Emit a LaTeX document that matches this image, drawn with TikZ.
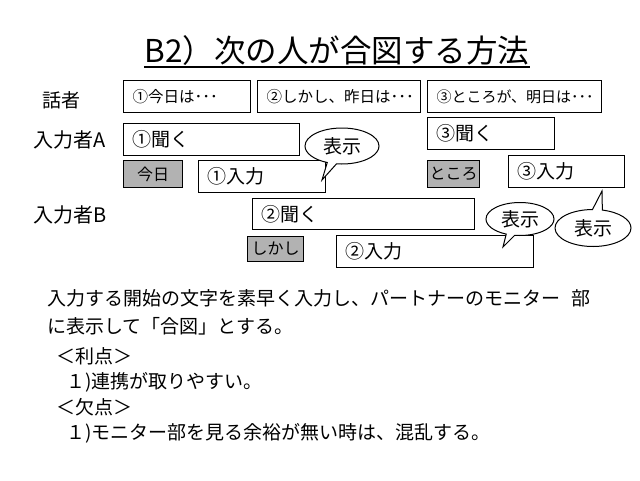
\documentclass[tikz,border=0pt]{standalone}
\usepackage{fontspec}
\setmainfont{Noto Sans CJK JP}
\usetikzlibrary{shapes.geometric,shapes.callouts}
\definecolor{keygray}{RGB}{178,178,178}
\newcommand{\fsz}[1]{\fontsize{#1}{#1}\selectfont}

\begin{document}
\begin{tikzpicture}[x=1pt,y=-1pt,
    box/.style={draw,line width=1pt,fill=white,anchor=north west,
      inner xsep=9pt,inner ysep=0pt,align=left,font=\fsz{19}},
    keybox/.style={draw,line width=1pt,fill=keygray,anchor=north west,
      inner sep=0pt,font=\fsz{16}},
    says/.style={ellipse callout,draw,line width=1pt,fill=white,
      inner sep=0pt,font=\fsz{19}},
    who/.style={font=\fsz{19}},
    note/.style={anchor=base west,inner sep=0pt,font=\fsz{19}}]
  \useasboundingbox (0,0) rectangle (640,480);

  \node[anchor=base,inner sep=0pt,font=\fsz{31.5}] (title) at (337,62)
    {B2）次の人が合図する方法};
  \draw[line width=1.2pt] ([yshift=-5pt]title.base west) -- ([yshift=-5pt]title.base east);

  \node[who] (speaker) at (61,100) {話者};
  \node[who,font=\fsz{20}] (inA) at (70,140) {入力者A};
  \node[who,font=\fsz{20}] (inB) at (70,215) {入力者B};

  \node[box,font=\fsz{15.5},text width=109,minimum height=32] (say1) at (123,80) {①今日は･･･};
  \node[box,font=\fsz{15.5},text width=145,minimum height=32] (say2) at (257,80) {②しかし、昨日は･･･};
  \node[box,font=\fsz{15},text width=156,minimum height=32] (say3) at (427,80) {③ところが、明日は･･･};

  \node[box,text width=158,minimum height=32] (hearA1) at (123,123) {①聞く};
  \node[box,text width=109,minimum height=32] (hearA3) at (427,117) {③聞く};
  \node[box,text width=204,minimum height=31] (hearB2) at (252,198) {②聞く};

  \node[keybox,minimum width=59,minimum height=27] (keyA1) at (123,160) {今日};
  \node[keybox,minimum width=52,minimum height=27] (keyA3) at (427,160) {ところ};
  \node[keybox,minimum width=56,minimum height=25] (keyB2) at (247,236) {しかし};

  \node[box,text width=109,minimum height=32] (typeA1) at (198,160) {①入力};
  \node[box,text width=98,minimum height=32] (typeA3) at (508,155) {③入力};
  \node[box,text width=179,minimum height=32] (typeB2) at (336,235) {②入力};

  \coordinate (tipA1) at (322,180);
  \coordinate (tipB2) at (503,247);
  \coordinate (tipA3) at (602,191);
  \node[says,minimum width=74,minimum height=36,callout absolute pointer={(tipA1)}]
    (showA1) at (342,146) {表示};
  \node[says,minimum width=68,minimum height=33,callout absolute pointer={(tipB2)}]
    (showB2) at (520,219) {表示};
  \node[says,minimum width=76,minimum height=37,callout absolute pointer={(tipA3)}]
    (showA3) at (593,228) {表示};

  \node[note] (line1) at (47,305) {入力する開始の文字を素早く入力し、パートナーのモニター\hspace{0.6em}部};
  \node[note] (line2) at (47,333) {に表示して「合図」とする。};
  \node[note] (good) at (56,363) {＜利点＞};
  \node[note] (good1) at (66,388) {１)連携が取りやすい。};
  \node[note] (bad) at (56,414) {＜欠点＞};
  \node[note] (bad1) at (66,439) {１)モニター部を見る余裕が無い時は、混乱する。};
\end{tikzpicture}
\end{document}
